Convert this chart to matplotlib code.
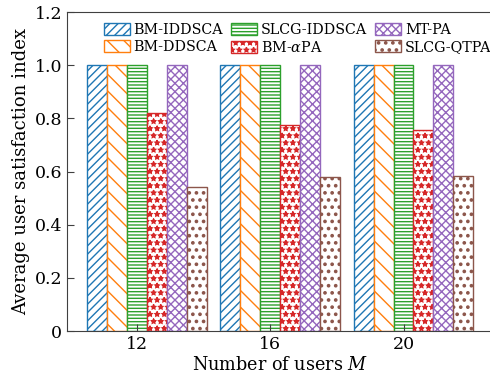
import matplotlib.pyplot as plt
import matplotlib.hatch as mhatch
import numpy as np

plt.rcParams['font.family'] = 'DejaVu Serif'
plt.rcParams['mathtext.fontset'] = 'dejavuserif'
plt.rcParams['hatch.linewidth'] = 1.0

# tweak the dot / star fills so they look like the original (14 rows per inch)
_dots_init = mhatch.SmallFilledCircles.__init__
_stars_init = mhatch.Stars.__init__
mhatch.SmallFilledCircles.__init__ = lambda self, h, d: _dots_init(self, h, 7)
mhatch.Stars.__init__ = lambda self, h, d: _stars_init(self, h, 7)
mhatch.SmallFilledCircles.size = 0.16
mhatch.Stars.size = 0.3

users = [12, 16, 20]
names = ['BM-IDDSCA', 'BM-DDSCA', 'SLCG-IDDSCA', r'BM-$\alpha$PA', 'MT-PA', 'SLCG-QTPA']
bm_iddsca = [1.0, 1.0, 1.0]
bm_ddsca = [1.0, 1.0, 1.0]
slcg_iddsca = [1.0, 1.0, 1.0]
bm_apa = [0.821, 0.775, 0.756]
mt_pa = [1.0, 1.0, 1.0]
slcg_qtpa = [0.542, 0.578, 0.583]
series = [bm_iddsca, bm_ddsca, slcg_iddsca, bm_apa, mt_pa, slcg_qtpa]

colors = ['#1f77b4', '#ff7f0e', '#2ca02c', '#d62728', '#9467bd', '#8c564b']
hatches = ['////', '\\\\', '-----', '**', 'xxxx', '..']

fig = plt.figure(figsize=(4.9, 3.82), dpi=100)
ax = fig.add_axes([0.137, 0.1335, 0.87, 0.835])

w = 0.6
x = np.array(users, dtype=float)
for i, (vals, name) in enumerate(zip(series, names)):
    ax.bar(x + (i - 2) * w, vals, w, color='white', edgecolor=colors[i],
           hatch=hatches[i], linewidth=1.0, label=name)

ax.set_xlim(9.9, 22.7)
ax.set_ylim(0, 1.2)
ax.set_xticks(users)
ax.set_yticks([0, 0.2, 0.4, 0.6, 0.8, 1.0, 1.2])
ax.set_yticklabels(['0', '0.2', '0.4', '0.6', '0.8', '1.0', '1.2'])
for s in ax.spines.values():
    s.set_color('#404040')
ax.tick_params(direction='in', labelsize=12.5, length=5, color='#404040')
ax.set_xlabel('Number of users $M$', fontsize=12.7, labelpad=2)
ax.set_ylabel('Average user satisfaction index', fontsize=13, labelpad=3)

ax.legend(ncol=3, frameon=False, fontsize=10.3, loc='upper left',
          bbox_to_anchor=(104 / 490, 1 - 23 / 382), bbox_transform=fig.transFigure,
          borderpad=0, borderaxespad=0, handlelength=1.8, handleheight=0.85,
          handletextpad=0.25, columnspacing=0.6, labelspacing=0.2)

fig.savefig('out.png', dpi=100)
